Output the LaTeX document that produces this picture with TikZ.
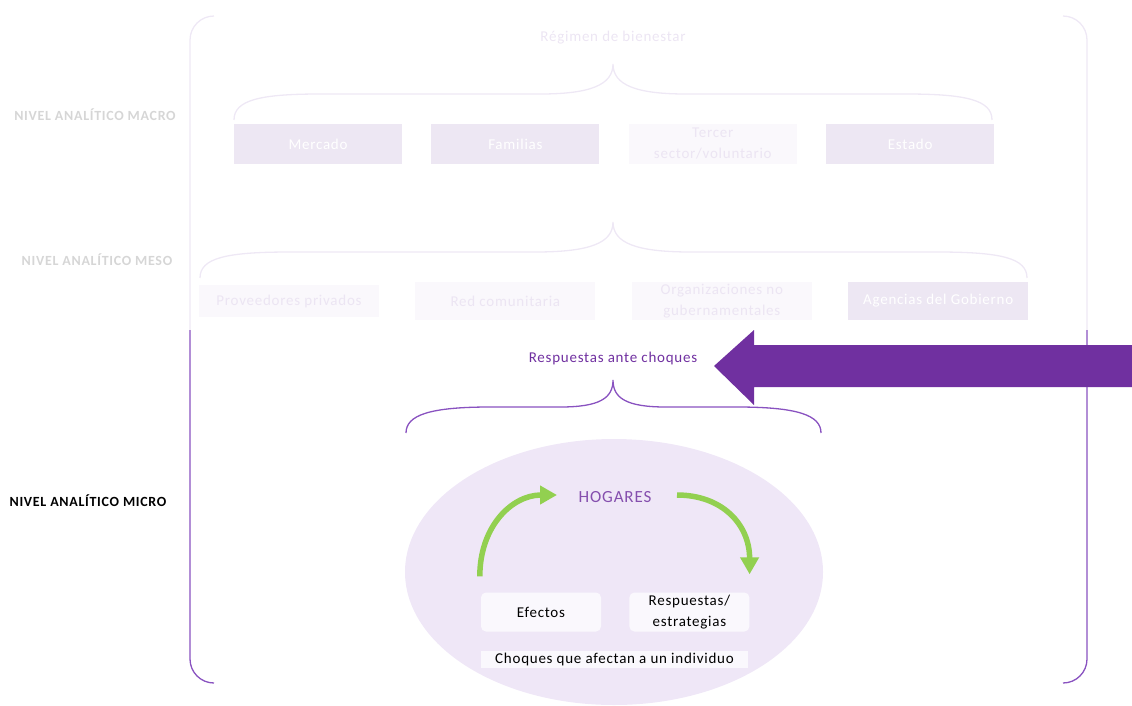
\documentclass[tikz,border=0pt]{standalone}
\usepackage{fontspec}
\setmainfont{Carlito}[LetterSpace=5]
\usetikzlibrary{positioning,arrows.meta,calc}

\definecolor{lilacline}{RGB}{238,232,245}
\definecolor{lilacbox}{RGB}{237,231,243}
\definecolor{lilacpale}{RGB}{250,248,252}
\definecolor{lilactext}{RGB}{236,229,243}
\definecolor{nivelgray}{RGB}{214,214,214}
\definecolor{bandpurple}{RGB}{112,48,160}
\definecolor{linepurple}{RGB}{137,82,192}
\definecolor{hogarfill}{RGB}{239,231,247}
\definecolor{cardfill}{RGB}{250,248,253}
\definecolor{leafgreen}{RGB}{146,208,80}

\newcommand{\boxfont}{\fontsize{15}{21}\selectfont}

\begin{document}
\begin{tikzpicture}[x=1pt,y=-1pt,
    frameline/.style={draw=lilacline, line width=1.3pt},
    microline/.style={draw=linepurple, line width=1.3pt},
    boxdark/.style={fill=lilacbox, text=white, font=\boxfont, align=center,
        minimum width=168pt, minimum height=40pt, inner sep=0pt},
    boxlight/.style={boxdark, fill=lilacpale, text=lilactext},
    mesodark/.style={boxdark, minimum width=180pt, minimum height=38pt},
    mesolight/.style={boxlight, minimum width=180pt, minimum height=38pt},
    nivel/.style={font=\fontsize{14}{16}\selectfont\bfseries, text=nivelgray},
    card/.style={fill=cardfill, rounded corners=5pt, font=\boxfont, align=center,
        minimum width=120pt, minimum height=39pt, inner sep=0pt},
    cycle/.style={draw=leafgreen, line width=5.5pt,
        -{Triangle[width=18pt,length=17pt]}},
    ]

    \useasboundingbox (0,0) rectangle (1132,705);

    % frame
    \draw[frameline, rounded corners=24pt] (214,16) -- (190,16) -- (190,330);
    \draw[microline, rounded corners=24pt] (190,330) -- (190,683) -- (214,683);
    \draw[frameline, rounded corners=24pt] (1063,16) -- (1087,16) -- (1087,330);
    \draw[microline, rounded corners=24pt] (1087,330) -- (1087,683) -- (1063,683);

    % levels
    \node[nivel] (macro) at (95,115) {NIVEL ANALÍTICO MACRO};
    \node[nivel] (meso) at (97,260) {NIVEL ANALÍTICO MESO};
    \node[nivel, text=black] (micro) at (88,501) {NIVEL ANALÍTICO MICRO};

    % ---------- macro
    \node[font=\boxfont, text=lilactext] (regimen) at (613,38) {Régimen de bienestar};
    \draw[frameline] (234,120) .. controls (234,100) and (260,94) .. (320,94)
        -- (540,94) .. controls (590,94) and (613,85) .. (613,64)
        .. controls (613,85) and (636,94) .. (686,94) -- (906,94)
        .. controls (966,94) and (992,100) .. (992,120);

    \node[boxdark] (mercado) at (318,144) {Mercado};
    \node[boxdark, right=29pt of mercado] (familias) {Familias};
    \node[boxlight, right=29pt of familias] (tercer) {Tercer\\sector/voluntario};
    \node[boxdark, right=29pt of tercer] (estado) {Estado};

    % ---------- meso
    \draw[frameline] (200,278) .. controls (200,258) and (226,252) .. (290,252)
        -- (535,252) .. controls (590,252) and (613,243) .. (613,222)
        .. controls (613,243) and (636,252) .. (691,252) -- (937,252)
        .. controls (1001,252) and (1027,258) .. (1027,278);

    \node[mesolight, minimum height=32pt] (proveedores) at (289,301) {Proveedores privados};
    \node[mesolight, right=36pt of proveedores] (red) {Red comunitaria};
    \node[mesolight, right=36pt of red] (ong) {Organizaciones no\\gubernamentales};
    \node[mesodark, right=36pt of ong] (agencias) {Agencias del Gobierno};

    % ---------- micro
    \node[font=\boxfont, text=bandpurple] (respuestas) at (613,358) {Respuestas ante choques};
    \fill[bandpurple] (714,366) -- (754,330) -- (754,345) -- (1132,345)
        -- (1132,387) -- (754,387) -- (754,405) -- cycle;

    \draw[microline] (406,433) .. controls (406,415) and (430,407) .. (490,407)
        -- (560,407) .. controls (600,407) and (613,398) .. (613,380)
        .. controls (613,398) and (626,407) .. (666,407) -- (737,407)
        .. controls (797,407) and (821,415) .. (821,433);

    \fill[hogarfill] (614,572) ellipse [x radius=209pt, y radius=133pt];

    \node[font=\fontsize{17}{19}\selectfont, text=bandpurple!85!white] (hogares) at (615,497) {HOGARES};
    \node[card] (efectos) at (541,612) {Efectos};
    \node[card, right=28pt of efectos] (estrategias) {Respuestas/\\estrategias};
    \node[fill=cardfill, font=\boxfont, minimum width=267pt, minimum height=17pt,
        inner sep=0pt] (choques) at (614.5,659.5) {Choques que afectan a un individuo};

    \draw[cycle] ([xshift=-1pt,yshift=16pt]efectos.north west)
        .. controls +(0,-50) and +(-45,0) .. (557,495);
    \draw[cycle] (677,495)
        .. controls +(45,0) and +(0,-50) .. ([yshift=18pt]estrategias.north east);

\end{tikzpicture}
\end{document}
